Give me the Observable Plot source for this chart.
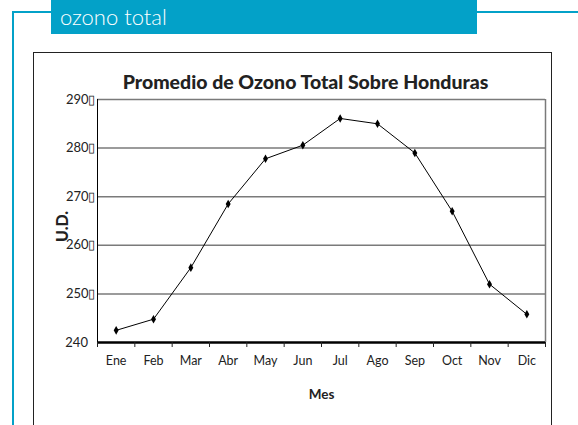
<!DOCTYPE html>
<html><head><meta charset="utf-8">
<script src="https://cdn.jsdelivr.net/npm/d3@7"></script>
<script src="https://cdn.jsdelivr.net/npm/@observablehq/plot@0.6"></script>
<style>
body{margin:0;background:#fff;}
#wrap{position:relative;width:578px;height:425px;overflow:hidden;font-family:Lato,sans-serif;background:#fff;}
.blue{position:absolute;background:#03a1c8;}
#inner{position:absolute;left:33px;top:52px;width:519px;height:400px;border:1px solid #222;box-sizing:border-box;}
#banner{position:absolute;left:51px;top:0;width:426px;height:34px;background:#03a1c8;color:#fff;font-size:22px;font-weight:300;line-height:33px;padding-left:9px;box-sizing:border-box;font-family:Lato,sans-serif;}
#chart{position:absolute;left:0;top:0;}
</style></head><body><div id="wrap">
<div class="blue" style="left:12px;top:11px;width:2px;height:420px"></div>
<div class="blue" style="left:12px;top:11px;width:45px;height:2px"></div>
<div class="blue" style="left:470px;top:11px;width:108px;height:2px"></div>
<div id="banner">ozono total</div>
<div id="inner"></div>
<div id="chart"></div>
</div>
<script>
const months = ["Ene","Feb","Mar","Abr","May","Jun","Jul","Ago","Sep","Oct","Nov","Dic"];
const ozone = [242.5, 244.8, 255.4, 268.5, 277.8, 280.6, 286.1, 285.0, 279.0, 267.0, 252.0, 245.8];
const yTicks = [240, 250, 260, 270, 280, 290];
const title = "Promedio de Ozono Total Sobre Honduras";
const yLabel = "U.D.";
const xLabel = "Mes";

const data = months.map((m, i) => ({pos: i + 0.5, m, v: ozone[i]}));

const plot = Plot.plot({
  width: 578, height: 425,
  marginLeft: 97, marginRight: 33, marginTop: 99, marginBottom: 83,
  style: {background: "transparent", fontFamily: "Lato, sans-serif", fontSize: "12px", color: "#222"},
  x: {type: "linear", domain: [0, 12]},
  y: {domain: [240, 290]},
  marks: [
    Plot.ruleY(yTicks.slice(1), {stroke: "#7a7a7a", strokeWidth: 1.5}),
    Plot.ruleX([12], {stroke: "#7a7a7a", strokeWidth: 1.5}),
    Plot.ruleX([0], {stroke: "#000", strokeWidth: 1}),
    Plot.ruleY([240], {stroke: "#000", strokeWidth: 2.5}),
    Plot.axisY({ticks: yTicks, tickSize: 0, tickPadding: 2, fontSize: 13,
      tickFormat: d => d === 240 ? "240\u2007" : d + "\u25AF", label: null}),
    Plot.axisX({ticks: d3.range(13), tickSize: 5, tickFormat: () => "", label: null}),
    Plot.axisX({ticks: d3.range(12).map(i => i + 0.5), tickSize: 0, tickPadding: 14,
      tickFormat: d => months[Math.floor(d)], label: null, fontSize: 12.5}),
    Plot.text([yLabel], {frameAnchor: "left", dx: -35, dy: 21, rotate: -90, fontWeight: "900", fontSize: 16, fill: "#222"}),
    Plot.text([xLabel], {frameAnchor: "bottom", dy: 52, lineAnchor: "middle", fontWeight: "bold", fontSize: 13.5, fill: "#222"}),
    Plot.text([title], {frameAnchor: "top", dx: -16, dy: -17, lineAnchor: "middle", fontWeight: "900", fontSize: 19.5, fill: "#222"}),
    Plot.line(data, {x: "pos", y: "v", stroke: "#000", strokeWidth: 1}),
    Plot.dot(data, {x: "pos", y: "v", symbol: "diamond", fill: "#000", r: 2.6})
  ]
});
document.getElementById("chart").appendChild(plot);
</script>
</body></html>
